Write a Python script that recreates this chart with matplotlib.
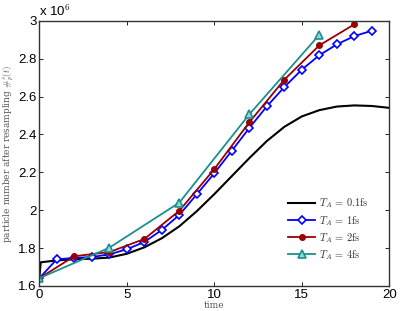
import numpy as np
import matplotlib
matplotlib.use('Agg')
import matplotlib.pyplot as plt

plt.rcParams['mathtext.fontset'] = 'cm'

# particle number after resampling, in units of 1e6
t_01 = [0, 0.08, 1, 2, 3, 4, 5, 6, 7, 8, 9, 10, 11, 12, 13, 14, 15, 16, 17, 18, 19, 20]
n_01 = [1.64, 1.725, 1.735, 1.741, 1.744, 1.750, 1.770, 1.804, 1.852, 1.915, 1.995,
        2.085, 2.180, 2.275, 2.365, 2.440, 2.495, 2.528, 2.547, 2.553, 2.550, 2.540]

t_1 = list(range(0, 20))
n_1 = [1.641, 1.741, 1.748, 1.753, 1.767, 1.794, 1.832, 1.896, 1.975, 2.084,
       2.195, 2.314, 2.434, 2.548, 2.650, 2.742, 2.818, 2.875, 2.919, 2.947]

t_2 = [0, 2, 4, 6, 8, 10, 12, 14, 16, 18]
n_2 = [1.641, 1.757, 1.779, 1.848, 1.997, 2.217, 2.464, 2.689, 2.870, 2.981]

t_4 = [0, 4, 8, 12, 16]
n_4 = [1.641, 1.802, 2.040, 2.506, 2.926]

labels = [r'$T_A\,=\,0.1\mathrm{fs}$', r'$T_A\,=\,1\mathrm{fs}$',
          r'$T_A\,=\,2\mathrm{fs}$', r'$T_A\,=\,4\mathrm{fs}$']

fig = plt.figure(figsize=(4.01, 3.11), dpi=100)
ax = fig.add_axes([0.098, 0.0804, 0.873, 0.853])

ax.plot(t_01, n_01, color='black', lw=1.5, label=labels[0])
ax.plot(t_1, n_1, color='blue', lw=1.3, marker='D', ms=4, mfc='white',
        mec='blue', mew=1.2, label=labels[1])
ax.plot(t_2, n_2, color='#990000', lw=1.3, marker='o', ms=4, label=labels[2])
ax.plot(t_4, n_4, color='#1a8f8f', lw=1.3, marker='^', ms=6, mfc='#9fd3d3',
        mec='#1a8f8f', mew=1.2, label=labels[3])

ax.set_xlim(0, 20)
ax.set_ylim(1.6, 3.0)
ax.set_xticks([0, 5, 10, 15, 20])
ax.set_yticks([1.6, 1.8, 2.0, 2.2, 2.4, 2.6, 2.8, 3.0])
ax.set_yticklabels(['1.6', '1.8', '2', '2.2', '2.4', '2.6', '2.8', '3'])
ax.tick_params(direction='in', top=True, right=True, length=3, width=0.6,
               labelsize=9.5, pad=2)
for lab in ax.get_xticklabels() + ax.get_yticklabels():
    lab.set_family('Liberation Sans')
for s in ax.spines.values():
    s.set_linewidth(1.0)
    s.set_color('#333333')

ax.text(0.0, 1.005, r'x 10$^{\mathsf{6}}$', transform=ax.transAxes,
        fontsize=9.5, family='Liberation Sans', va='bottom', ha='left')

ax.set_xlabel('time', fontsize=6.5, family='serif', color='#555555', labelpad=0)
ax.set_ylabel(r'particle number after resampling $\#_p^s(t)$', fontsize=6.5,
              family='serif', color='#555555', labelpad=2)

leg = ax.legend(loc='lower right', bbox_to_anchor=(0.965, 0.056), frameon=False,
                fontsize=7.5, handlelength=2.6, labelspacing=0.32,
                handletextpad=0.3)
for txt in leg.get_texts():
    txt.set_color('#333333')

fig.savefig('out.png', dpi=100)
